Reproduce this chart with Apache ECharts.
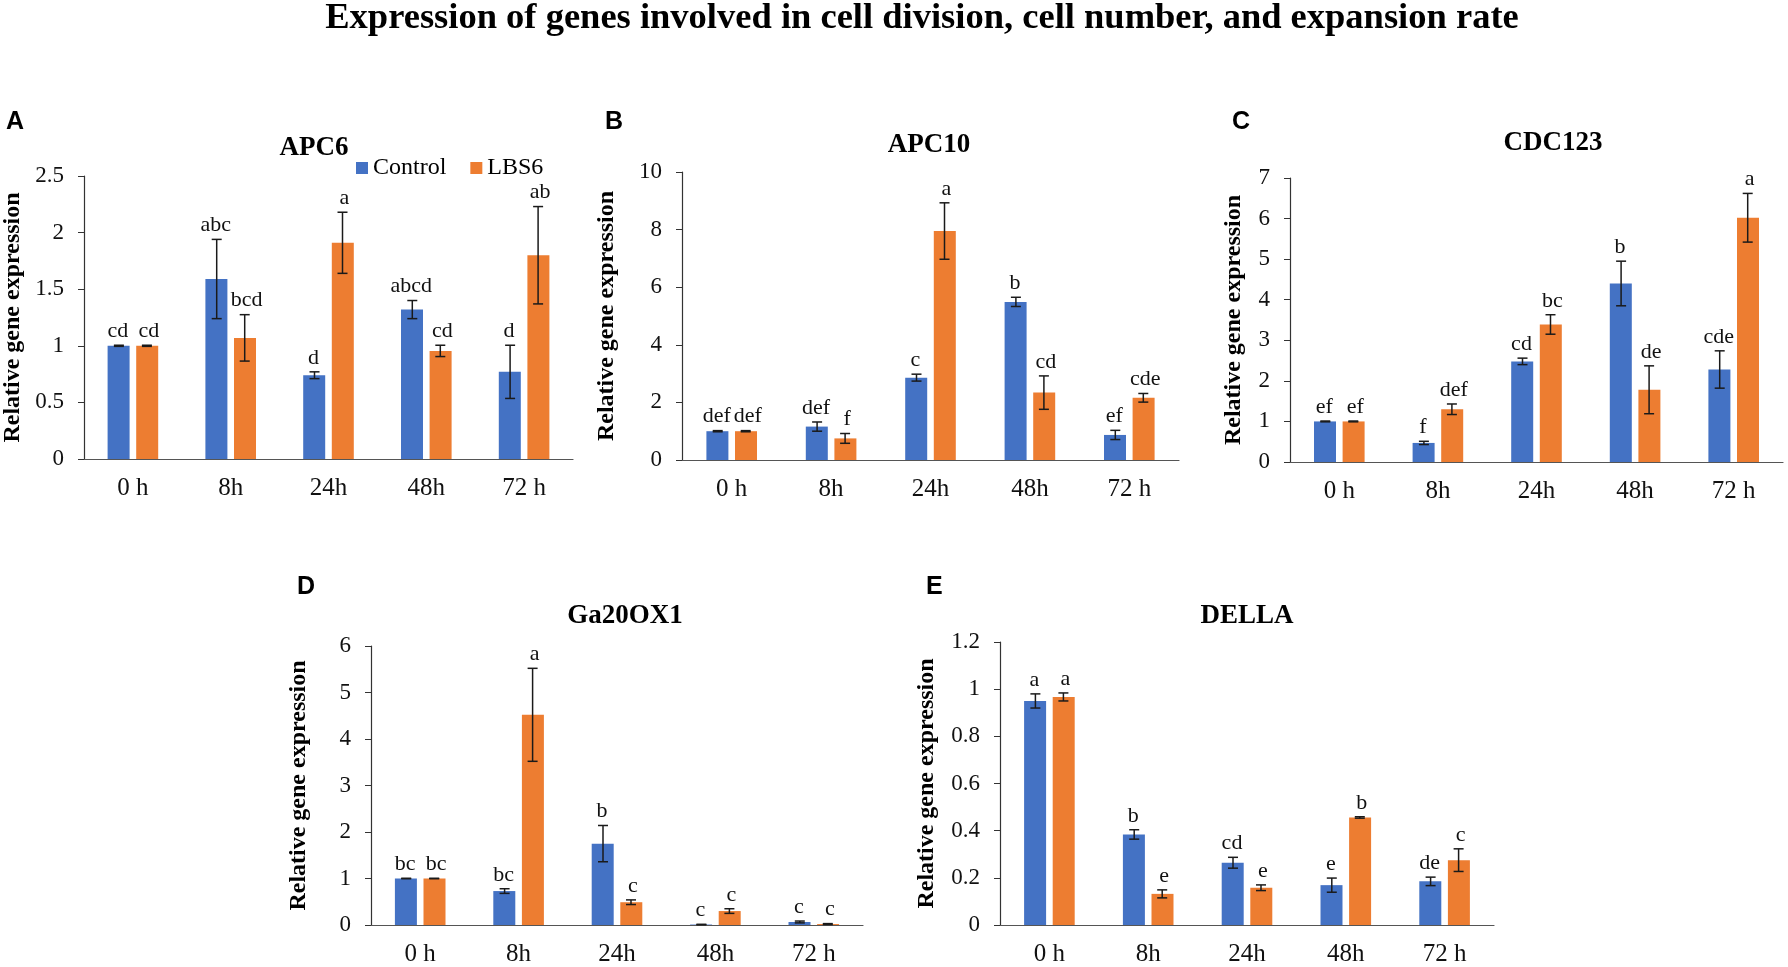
<!DOCTYPE html>
<html>
<head>
<meta charset="utf-8">
<script src="https://cdn.jsdelivr.net/npm/echarts@6/dist/echarts.min.js"></script>
<style>
html,body{margin:0;padding:0;background:#fff;}
#chart{width:1788px;height:967px;}
</style>
</head>
<body>
<div id="chart"></div>
<script>
// ---- data ----
const categories = ['0 h', '8h', '24h', '48h', '72 h'];

const apc6Control = [1.00, 1.59, 0.74, 1.32, 0.77];
const apc6ControlErr = [0.005, 0.35, 0.03, 0.08, 0.235];
const apc6LBS6 = [1.00, 1.07, 1.91, 0.955, 1.80];
const apc6LBS6Err = [0.005, 0.205, 0.27, 0.05, 0.43];
const apc6ControlLetters = ['cd', 'abc', 'd', 'abcd', 'd'];
const apc6LBS6Letters = ['cd', 'bcd', 'a', 'cd', 'ab'];

const apc10Control = [1.00, 1.16, 2.86, 5.49, 0.87];
const apc10ControlErr = [0.02, 0.16, 0.12, 0.16, 0.16];
const apc10LBS6 = [1.00, 0.75, 7.95, 2.34, 2.16];
const apc10LBS6Err = [0.02, 0.17, 0.98, 0.58, 0.15];
const apc10ControlLetters = ['def', 'def', 'c', 'b', 'ef'];
const apc10LBS6Letters = ['def', 'f', 'a', 'cd', 'cde'];

const cdc123Control = [1.00, 0.47, 2.48, 4.40, 2.28];
const cdc123ControlErr = [0.01, 0.04, 0.08, 0.55, 0.46];
const cdc123LBS6 = [1.00, 1.30, 3.39, 1.78, 6.02];
const cdc123LBS6Err = [0.01, 0.13, 0.24, 0.59, 0.60];
const cdc123ControlLetters = ['ef', 'f', 'cd', 'b', 'cde'];
const cdc123LBS6Letters = ['ef', 'def', 'bc', 'de', 'a'];

const ga20Control = [1.00, 0.73, 1.75, 0.01, 0.065];
const ga20ControlErr = [0.005, 0.05, 0.39, 0.005, 0.02];
const ga20LBS6 = [1.00, 4.52, 0.49, 0.30, 0.02];
const ga20LBS6Err = [0.005, 1.00, 0.05, 0.05, 0.01];
const ga20ControlLetters = ['bc', 'bc', 'b', 'c', 'c'];
const ga20LBS6Letters = ['bc', 'a', 'c', 'c', 'c'];

const dellaControl = [0.95, 0.384, 0.264, 0.169, 0.185];
const dellaControlErr = [0.03, 0.02, 0.023, 0.03, 0.018];
const dellaLBS6 = [0.967, 0.132, 0.158, 0.456, 0.275];
const dellaLBS6Err = [0.017, 0.017, 0.012, 0.003, 0.048];
const dellaControlLetters = ['a', 'b', 'cd', 'e', 'de'];
const dellaLBS6Letters = ['a', 'e', 'e', 'b', 'c'];

const yMax = [2.5, 10, 7, 6, 1.2];
const yInterval = [0.5, 2, 1, 1, 0.2];

// ---- layout / style ----
const SERIF = "'Liberation Serif', 'Times New Roman', serif";
const SANS = "'Liberation Sans', Arial, sans-serif";
const BLUE = '#4472C4';
const ORANGE = '#ED7D31';

const panels = [
  { gene: 'APC6', letter: 'A', grid: { left: 79, top: 176, width: 494, height: 283 }, title: [309, 130], letterPos: [1, 105], nameGap: 59,
    c: apc6Control, ce: apc6ControlErr, l: apc6LBS6, le: apc6LBS6Err, cl: apc6ControlLetters, ll: apc6LBS6Letters },
  { gene: 'APC10', letter: 'B', grid: { left: 682, top: 172, width: 497, height: 288 }, title: [924, 127], letterPos: [600, 105], nameGap: 63,
    c: apc10Control, ce: apc10ControlErr, l: apc10LBS6, le: apc10LBS6Err, cl: apc10ControlLetters, ll: apc10LBS6Letters },
  { gene: 'CDC123', letter: 'C', grid: { left: 1290, top: 178, width: 493, height: 284 }, title: [1548, 125], letterPos: [1227, 105], nameGap: 44,
    c: cdc123Control, ce: cdc123ControlErr, l: cdc123LBS6, le: cdc123LBS6Err, cl: cdc123ControlLetters, ll: cdc123LBS6Letters },
  { gene: 'Ga20OX1', letter: 'D', grid: { left: 371, top: 646, width: 492, height: 282 }, title: [620, 598], letterPos: [292, 570], nameGap: 60,
    c: ga20Control, ce: ga20ControlErr, l: ga20LBS6, le: ga20LBS6Err, cl: ga20ControlLetters, ll: ga20LBS6Letters },
  { gene: 'DELLA', letter: 'E', grid: { left: 1000, top: 642, width: 494, height: 288 }, title: [1242, 598], letterPos: [921, 570], nameGap: 61,
    c: dellaControl, ce: dellaControlErr, l: dellaLBS6, le: dellaLBS6Err, cl: dellaControlLetters, ll: dellaLBS6Letters }
];

const BAR_W = 22;
const OFFSET = 14;

function errSeries(idx, values, errs, letters, offset) {
  return {
    type: 'custom',
    xAxisIndex: idx, yAxisIndex: idx,
    z: 5,
    clip: false,
    silent: true,
    data: values.map((v, i) => [i, v, errs[i]]),
    renderItem: function (params, api) {
      const cat = api.value(0), v = api.value(1), e = api.value(2);
      const hi = api.coord([cat, v + e]);
      const lo = api.coord([cat, v - e]);
      const x = hi[0] + offset;
      const cap = 5;
      const st = { stroke: '#1a1a1a', lineWidth: 1.5 };
      return {
        type: 'group',
        children: [
          { type: 'line', shape: { x1: x, y1: hi[1], x2: x, y2: lo[1] }, style: st },
          { type: 'line', shape: { x1: x - cap, y1: hi[1], x2: x + cap, y2: hi[1] }, style: st },
          { type: 'line', shape: { x1: x - cap, y1: lo[1], x2: x + cap, y2: lo[1] }, style: st },
          { type: 'text', x: x + (offset < 0 ? -1 : 2), y: hi[1] - 3,
            style: { text: letters[params.dataIndex], font: '22px ' + SERIF, fill: '#111', align: 'center', verticalAlign: 'bottom' } }
        ]
      };
    }
  };
}

const option = {
  backgroundColor: '#fff',
  animation: false,
  title: [
    { text: 'Expression of genes involved in cell division, cell number, and expansion rate',
      left: 917, top: -5, textAlign: 'center',
      textStyle: { fontFamily: SERIF, fontWeight: 'bold', fontSize: 36.5, color: '#000' } }
  ].concat(panels.map(p => ({
    text: p.gene, left: p.title[0], top: p.title[1], textAlign: 'center',
    textStyle: { fontFamily: SERIF, fontWeight: 'bold', fontSize: 27, color: '#000' }
  }))).concat(panels.map(p => ({
    text: p.letter, left: p.letterPos[0], top: p.letterPos[1],
    textStyle: { fontFamily: SANS, fontWeight: 'bold', fontSize: 25, color: '#000' }
  }))),
  legend: {
    data: ['Control', 'LBS6'],
    left: 356, top: 156, padding: 0,
    itemWidth: 12, itemHeight: 12, itemGap: 24,
    icon: 'rect', selectedMode: false,
    textStyle: { fontFamily: SERIF, fontSize: 24, color: '#000' }
  },
  grid: panels.map(p => Object.assign({ containLabel: false }, p.grid)),
  xAxis: panels.map((p, i) => ({
    type: 'category', gridIndex: i, data: categories,
    axisLine: { lineStyle: { color: '#555', width: 1.2 } },
    axisTick: { show: false },
    axisLabel: { fontFamily: SERIF, fontSize: 25, color: '#111', margin: 17 }
  })),
  yAxis: panels.map((p, i) => ({
    type: 'value', gridIndex: i, min: 0, max: yMax[i], interval: yInterval[i],
    name: 'Relative gene expression', nameLocation: 'middle', nameGap: p.nameGap,
    nameTextStyle: { fontFamily: SERIF, fontWeight: 'bold', fontSize: 24, color: '#000' },
    axisLine: { show: true, lineStyle: { color: '#333', width: 1.2 } },
    axisTick: { show: true, length: 6, lineStyle: { color: '#333' } },
    splitLine: { show: false },
    axisLabel: { fontFamily: SERIF, fontSize: 23, color: '#111', margin: 20 }
  })),
  series: []
};

panels.forEach((p, i) => {
  option.series.push({
    name: 'Control', type: 'bar', xAxisIndex: i, yAxisIndex: i,
    data: p.c, barWidth: BAR_W, barGap: '30%', itemStyle: { color: BLUE }
  });
  option.series.push({
    name: 'LBS6', type: 'bar', xAxisIndex: i, yAxisIndex: i,
    data: p.l, barWidth: BAR_W, barGap: '30%', itemStyle: { color: ORANGE }
  });
});
panels.forEach((p, i) => {
  option.series.push(errSeries(i, p.c, p.ce, p.cl, -OFFSET));
  option.series.push(errSeries(i, p.l, p.le, p.ll, OFFSET));
});

const chart = echarts.init(document.getElementById('chart'));
chart.setOption(option);
</script>
</body>
</html>
